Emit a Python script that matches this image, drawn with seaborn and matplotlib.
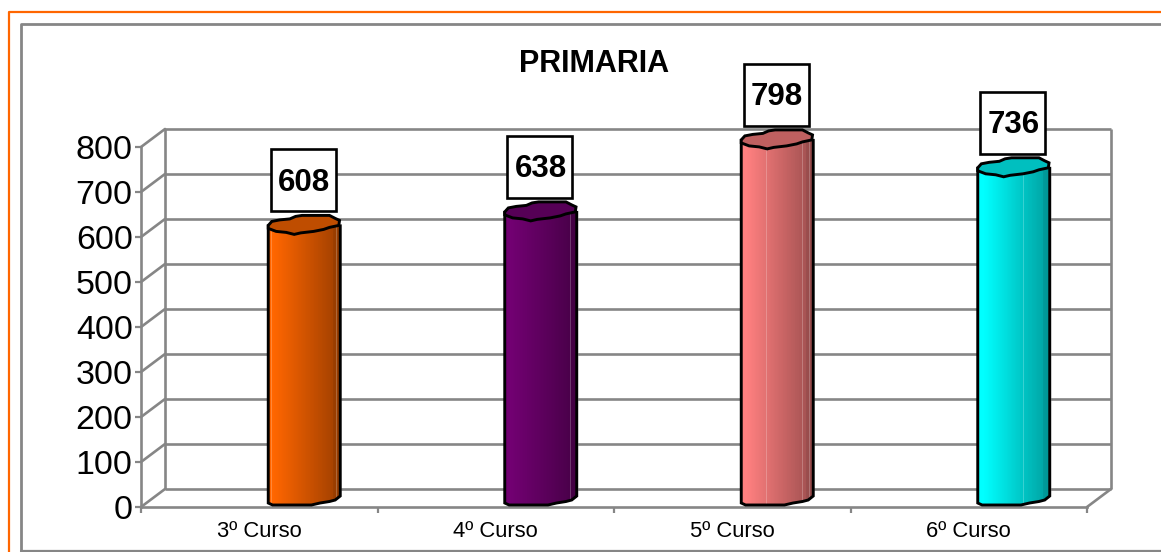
import numpy as np
import pandas as pd
import matplotlib
matplotlib.use("Agg")
import matplotlib.pyplot as plt
import seaborn as sns
from matplotlib.patches import Polygon, Rectangle
from matplotlib.transforms import Affine2D, IdentityTransform

# data
cursos = ["3º Curso", "4º Curso", "5º Curso", "6º Curso"]
alumnos = [608, 638, 798, 736]
colores = ["#FF6600", "#720072", "#FF8080", "#00FFFF"]
y_ticks = [0, 100, 200, 300, 400, 500, 600, 700, 800]

# thin light stripes on each cylinder (fraction of width)
stripes = [[0.05, 0.42, 0.69, 0.95], [0.08, 0.80, 0.91], [0.25, 0.35, 0.70, 0.85, 0.95], [0.63]]

# wobbly shape of the cylinder, (fraction of width, px from the rim/base)
RIM = [(0, -1), (0.05, 3), (0.16, 4.5), (0.3, 5.5), (0.38, 8), (0.47, 9), (0.85, 9), (0.93, 6), (0.99, 4),
       (0.98, -1), (0.85, -3), (0.77, -5), (0.63, -7), (0.45, -8.5), (0.36, -10), (0.25, -8), (0.11, -7), (0, -4)]
BASE = [(0, -5), (0.06, -7), (0.6, -7), (0.72, -5), (0.85, -3.5), (0.93, -2), (1, 2)]

GREY = "#868686"
W, H = 1161, 552

sns.set_style("white")
plt.rcParams["font.family"] = ["Liberation Sans", "DejaVu Sans"]
plt.rcParams["text.color"] = "black"
plt.rcParams["xtick.labelcolor"] = "black"
plt.rcParams["ytick.labelcolor"] = "black"

fig = plt.figure(figsize=(W / 100, H / 100), dpi=100, facecolor="white")
ax = fig.add_axes([141 / W, (H - 507) / H, 946 / W, 360 / H])
ax.patch.set_alpha(0)

df = pd.DataFrame({"curso": cursos, "alumnos": alumnos})
sns.barplot(data=df, x="curso", y="alumnos", hue="curso", palette=colores, saturation=1,
            width=72 / 236.5, dodge=False, legend=False, ax=ax, zorder=3)
ax.set_xlim(-0.5, 3.5)
ax.set_ylim(0, 800)
ax.set_xlabel("")
ax.set_ylabel("")

# axes
sns.despine(ax=ax)
for s in ["left", "bottom"]:
    ax.spines[s].set_color(GREY)
    ax.spines[s].set_linewidth(1.9)
ax.set_yticks(y_ticks)
ax.set_xticks([-0.5, 0.5, 1.5, 2.5, 3.5], labels=[])
ax.set_xticks(range(4), labels=cursos, minor=True)
ax.tick_params(axis="y", which="major", left=True, length=4, width=1.6, color=GREY, labelsize=24.5, pad=2)
ax.tick_params(axis="x", which="major", bottom=True, length=4.5, width=1.6, color=GREY)
ax.tick_params(axis="x", which="minor", bottom=False, length=0, labelsize=15.8, pad=10)
ax.set_title("PRIMARIA", x=0.479, y=1.186, fontsize=22, fontweight="bold", va="baseline", color="black")

# back wall, shifted behind the front axes
depth = (24, 18)
wall = ax.transData + Affine2D().translate(*depth)
ax.hlines(y_ticks, -0.5, 3.5, color=GREY, lw=1.9, transform=wall, clip_on=False, zorder=1)
ax.vlines([-0.5, 3.5], 0, 800, color=GREY, lw=1.9, transform=wall, clip_on=False, zorder=1)
corners = [(-0.5, t) for t in y_ticks] + [(3.5, 0)]
for pt in corners:
    x, y = ax.transData.transform(pt)
    ax.plot([x, x + depth[0]], [y, y + depth[1]], color=GREY, lw=1.9, transform=IdentityTransform(),
            clip_on=False, zorder=1)

# cylinders
shift = ax.transData + Affine2D().translate(45, 9)
for i, bar in enumerate(ax.patches):
    v = alumnos[i]
    bar.set_transform(shift)
    x0, x1 = bar.get_x(), bar.get_x() + bar.get_width()
    (px0, base), (px1, rim) = shift.transform([(x0, 0), (x1, v)])
    w = px1 - px0

    side = [(px0, rim)] + [(px0 + f * w, base + d) for f, d in BASE] + [(px1, rim)]
    body = Polygon(side, closed=True, fc="none", ec="none", transform=IdentityTransform(), zorder=3)
    ax.add_patch(body)

    rgb = np.array(matplotlib.colors.to_rgb(colores[i]))
    n = 90
    fade = np.interp(np.linspace(0, 1, n), [0, 0.08, 1], [1, 1, 0.62])
    fade[int(n * 0.9):] *= 0.93
    colors = fade[:, None] * rgb
    for f in stripes[i]:
        c = int(f * n)
        colors[c] = colors[c] * 0.78 + 0.22
    grad = ax.imshow(colors[None, :, :], extent=[x0, x1, -20, v], aspect="auto", interpolation="nearest",
                     transform=shift, zorder=3.1)
    grad.set_clip_path(body)
    grad.set_clip_box(fig.bbox)  # bar 3 goes above the axes box

    ax.add_patch(Polygon(side, closed=False, fc="none", ec="black", lw=2.1, transform=IdentityTransform(),
                         clip_on=False, zorder=3.2))
    cap = [(px0 + f * w, rim + d) for f, d in RIM]
    ax.add_patch(Polygon(cap, closed=True, fc=rgb * 0.75, ec="black", lw=2.1, transform=IdentityTransform(),
                         clip_on=False, zorder=3.3))

    # value label box
    cx = (px0 + px1) / 2 - 1
    cy = rim + 44
    ax.add_patch(Rectangle((cx - 32.5, cy - 31), 65, 62, fc="white", ec="black", lw=1.9,
                           transform=IdentityTransform(), clip_on=False, zorder=4))
    ax.text(cx + 1, cy + 1, str(v), fontsize=22.5, fontweight="bold", ha="center", va="center_baseline",
            transform=IdentityTransform(), clip_on=False, zorder=5)

ax.set_xlim(-0.5, 3.5)
ax.set_ylim(0, 800)

# outer frames
page = Affine2D().scale(1, -1).translate(0, H)
fig.add_artist(plt.Line2D([9, 9, W], [H, 12, 12], color="#FF6600", lw=1.6, transform=page))
fig.add_artist(plt.Line2D([21, 21, W], [H, 24, 24], color=GREY, lw=2, transform=page))
fig.add_artist(plt.Line2D([21, W], [551, 551], color=GREY, lw=1.6, transform=page))

fig.savefig("out.png", dpi=100)
